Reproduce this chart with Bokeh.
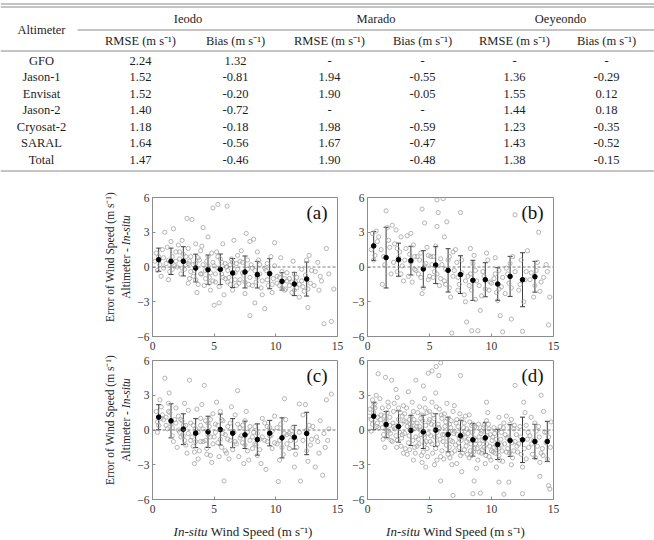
from math import pi
from bokeh.plotting import figure
from bokeh.layouts import column, row
from bokeh.models import (ColumnDataSource, Range1d, Label, Span, Whisker,
                          TeeHead, FixedTicker)
from bokeh.core.properties import value
from bokeh.embed import file_html
from bokeh.resources import INLINE

SERIF = "Liberation Serif"

# ---------------- table data ----------------
altimeters = ["GFO", "Jason-1", "Envisat", "Jason-2", "Cryosat-2", "SARAL", "Total"]
stations = ["Ieodo", "Marado", "Oeyeondo"]
sub_headers = ["RMSE (m s\u207b\u00b9)", "Bias (m s\u207b\u00b9)"]
ieodo_rmse = [2.24, 1.52, 1.52, 1.40, 1.18, 1.64, 1.47]
ieodo_bias = [1.32, -0.81, -0.20, -0.72, -0.18, -0.56, -0.46]
marado_rmse = [None, 1.94, 1.90, None, 1.98, 1.67, 1.90]
marado_bias = [None, -0.55, -0.05, None, -0.59, -0.47, -0.48]
oey_rmse = [None, 1.36, 1.55, 1.44, 1.23, 1.43, 1.38]
oey_bias = [None, -0.29, 0.12, 0.18, -0.35, -0.52, -0.15]

# ---------------- panel data ----------------
a_pts = [(0.3,1.2),(0.6,0.2),(0.8,1.5),(0.4,-0.3),(0.9,0.8),(0.2,0.5),(0.7,-0.8),(1.0,3.0),
         (1.2,1.7),(1.4,-0.4),(1.6,0.9),(1.8,0.1),(1.3,-1.1),(1.7,3.3),(1.9,1.3),(1.5,2.2),(1.1,0.3),
         (2.1,1.9),(2.3,-0.6),(2.5,1.1),(2.7,0.2),(2.9,-1.4),(2.4,2.3),(2.8,4.2),(2.2,0.7),(2.6,-0.2),(2.9,1.6),
         (3.2,4.1),(3.1,0.9),(3.3,-0.8),(3.5,0.3),(3.7,-1.5),(3.9,1.4),(3.4,-0.3),(3.6,-2.2),(3.8,0.6),(3.0,-1.0),(3.5,2.0),
         (4.1,3.4),(4.2,-1.6),(4.4,0.5),(4.6,-0.9),(4.8,1.2),(4.3,-0.3),(4.7,-2.0),(4.5,0.1),(4.9,5.1),(4.0,1.8),(4.9,-1.2),(4.5,2.6),
         (5.3,5.4),(5.1,-0.6),(5.2,1.3),(5.4,-1.7),(5.6,0.4),(5.8,-2.4),(5.5,-0.2),(5.7,2.0),(5.9,-1.0),(5.0,-3.3),(5.4,-3.1),(5.3,0.9),
         (6.05,5.25),(6.1,-1.3),(6.3,0.2),(6.5,-2.0),(6.7,-0.5),(6.9,1.0),(6.2,-0.9),(6.6,2.3),(6.8,-1.6),(6.4,0.7),
         (7.1,-1.1),(7.3,0.4),(7.5,-2.3),(7.6,2.9),(7.7,-0.2),(7.9,-4.2),(7.2,1.4),(7.8,-1.5),(7.4,-0.7),(7.9,2.2),
         (8.1,-0.1),(8.3,-3.1),(8.4,-1.3),(8.6,0.6),(8.8,-1.8),(8.2,2.4),(8.7,-0.6),(8.9,-2.4),(8.5,1.3),
         (9.1,-3.6),(9.2,-0.3),(9.4,-1.6),(9.6,0.9),(9.8,-1.0),(9.3,0.3),(9.7,-2.2),(9.9,2.1),
         (10.1,-0.8),(10.3,-1.6),(10.5,-0.4),(10.7,-2.0),(10.9,-1.2),(10.4,0.8),(10.8,-1.9),
         (11.1,-1.0),(11.3,-2.2),(11.5,-0.6),(11.7,-1.8),(11.9,-2.6),(11.4,0.5),(11.6,-1.3),
         (12.1,-0.2),(12.3,-2.1),(12.6,-3.5),(12.5,0.6),(12.8,-1.4),(12.7,1.0),(12.2,-1.7),
         (13.2,-0.4),(13.5,-2.0),(13.9,-4.9),(14.1,1.6),(13.7,-1.2),(14.5,-4.7),(14.7,-1.9),(14.3,-0.6),(13.4,0.4),
         (0.5,0.9),(0.9,-0.1),(1.3,0.6),(1.6,-0.2),(1.9,0.5),(2.2,1.3),(2.4,-0.1),(2.7,0.9),(2.9,0.3),(3.1,-0.4),
         (3.3,0.2),(3.5,-1.1),(3.7,0.8),(3.9,-0.6),(4.1,0.2),(4.3,-1.0),(4.5,0.9),(4.7,-0.5),(4.9,0.4),(5.1,-1.3),
         (5.3,-0.1),(5.5,0.7),(5.7,-0.9),(5.9,0.3),(6.1,-0.3),(6.3,-1.5),(6.5,0.4),(6.7,-1.1),(6.9,-0.2),(7.1,0.5),
         (7.3,-0.5),(7.5,-1.3),(7.7,0.6),(7.9,-0.9),(8.1,-1.6),(8.3,-0.3),(8.5,-0.9),(8.7,0.2),(8.9,-1.2),(9.1,-0.1),
         (9.3,-1.1),(9.5,-0.5),(9.7,-1.5),(9.9,0.1),(10.1,-1.4),(10.3,-0.9),(10.5,-1.8),(10.7,-1.0),(10.9,-0.5),(11.1,-1.6),
         (11.3,-1.3),(11.5,-2.0),(11.7,-0.9),(11.9,-1.5),(12.1,-1.2),(12.4,-0.7),(12.6,-1.9),(12.9,-0.3),(13.1,-1.6),(13.6,-0.8),
         (4.0,-0.6),(4.6,-1.4),(5.0,0.1),(5.6,-0.6),(6.0,0.0),(3.0,0.5),(2.0,0.0),(6.8,0.3),(7.0,-1.4),(8.0,0.2)]

b_pts = [(0.4,2.9),(0.6,1.0),(0.8,2.2),(0.5,0.6),(0.7,3.1),
         (1.5,4.85),(1.2,-1.5),(1.7,2.3),(1.4,0.2),(1.9,-0.6),(1.1,1.5),(1.6,3.4),
         (2.2,2.0),(2.4,-0.4),(2.6,1.3),(2.8,0.1),(2.3,3.2),(2.9,-1.2),(2.5,0.8),(2.7,2.6),
         (3.1,1.6),(3.3,-0.8),(3.5,0.4),(3.7,1.9),(3.9,-0.3),(3.2,2.7),(3.6,-1.3),(3.8,0.9),
         (4.1,-0.6),(4.3,1.2),(4.4,5.0),(4.6,3.8),(4.5,-1.8),(4.7,0.3),(4.9,-1.1),(4.2,0.6),(4.8,1.7),(4.4,-2.3),
         (5.6,5.8),(5.7,4.7),(5.6,3.5),(5.1,0.9),(5.3,-0.9),(5.5,1.8),(5.8,-1.6),(5.2,0.2),(5.9,0.7),(5.4,-0.4),
         (6.1,5.9),(6.4,3.9),(6.8,-5.7),(6.2,-1.2),(6.5,0.6),(6.7,-2.6),(6.9,1.3),(6.3,-0.2),(6.6,-1.8),
         (7.5,4.7),(7.2,0.4),(7.4,-1.5),(7.6,-0.5),(7.8,-2.4),(7.1,1.5),(7.9,-3.0),(7.3,-0.9),
         (8.0,-4.75),(8.4,-5.5),(8.9,-5.5),(8.2,-1.6),(8.5,0.3),(8.7,-2.8),(8.3,-0.6),(8.8,-1.2),(8.6,1.0),
         (9.1,-3.75),(9.3,-0.4),(9.5,-1.9),(9.7,0.6),(9.9,-1.3),(9.2,-2.5),(9.6,1.2),
         (10.9,-5.6),(10.7,-4.2),(10.2,-1.0),(10.4,-2.2),(10.6,-0.3),(10.8,-1.7),(10.3,0.8),(10.5,-2.9),
         (11.9,4.5),(11.6,-4.5),(11.2,-0.1),(11.4,-1.4),(11.7,0.9),(11.1,-2.3),(11.5,0.3),
         (12.5,-5.55),(12.2,-2.0),(12.4,0.6),(12.7,-1.1),(12.9,1.4),(12.6,-3.0),
         (13.8,3.0),(14.6,-5.0),(14.7,-2.6),(13.2,-0.5),(13.5,-1.6),(13.7,0.4),(14.2,-0.9),(14.4,0.2),(13.9,-2.1),
         (0.3,1.5),(0.9,2.6),(1.3,0.9),(1.8,1.7),(2.1,0.4),(2.4,1.6),(2.7,-0.6),(3.0,0.6),(3.4,1.1),(3.8,-0.2),
         (4.0,0.9),(4.3,-0.9),(4.6,0.1),(4.9,1.0),(5.0,-0.8),(5.3,0.9),(5.6,-0.6),(5.9,-1.0),(6.0,0.2),(6.3,-1.5),
         (6.6,0.9),(6.9,-0.8),(7.0,-0.3),(7.3,-2.0),(7.6,0.6),(7.9,-1.2),(8.1,-0.8),(8.4,-2.0),(8.7,-0.3),(9.0,-1.6),
         (9.4,-0.8),(9.8,-2.0),(10.0,-1.4),(10.3,-0.6),(10.6,-1.9),(10.9,-0.9),(11.3,-0.6),(11.6,-1.8),(11.9,-0.4),(12.3,-1.5),
         (12.8,-0.4),(13.1,-1.1),(13.4,-2.6),(13.6,-0.3),(14.0,-1.3),(14.5,-0.4),(2.0,3.6),(3.5,2.9),(6.2,2.6),(8.3,1.6)]

c_pts = [(0.3,1.6),(0.5,0.4),(0.7,2.0),(0.9,0.9),(0.4,-0.2),(0.8,1.3),(1.0,4.47),(0.6,2.6),
         (1.35,3.2),(1.2,0.1),(1.4,1.5),(1.6,-0.5),(1.8,0.9),(1.3,2.3),(1.7,-1.0),(1.9,1.9),(1.5,0.5),(1.1,1.1),
         (3.0,4.3),(2.1,1.2),(2.3,-0.6),(2.5,0.4),(2.7,-1.3),(2.9,1.7),(2.2,-0.2),(2.6,2.3),(2.8,-2.0),(2.4,0.8),(2.6,-0.9),
         (3.1,0.6),(3.3,-1.4),(3.5,0.1),(3.7,-2.5),(3.9,1.0),(3.2,-0.6),(3.6,1.8),(3.8,-1.8),(3.4,-2.9),(3.5,-0.3),(3.9,-1.0),
         (4.2,3.85),(4.1,-1.0),(4.3,0.8),(4.5,-0.4),(4.7,-2.2),(4.9,1.4),(4.4,-1.6),(4.6,0.3),(4.8,-2.8),(4.0,2.2),(4.7,0.9),
         (5.8,-4.4),(5.1,0.5),(5.3,-1.1),(5.5,1.6),(5.7,-0.3),(5.9,-1.8),(5.2,2.4),(5.4,-2.3),(5.6,0.9),(5.0,-0.6),
         (6.9,3.4),(6.1,-0.8),(6.3,0.6),(6.5,-1.7),(6.7,1.3),(6.2,-2.5),(6.6,-0.2),(6.8,-1.2),(6.4,2.0),
         (7.8,-2.6),(7.1,0.2),(7.3,-1.1),(7.5,0.8),(7.7,-1.8),(7.2,-0.5),(7.6,1.6),(7.9,-0.9),(7.4,-2.9),
         (8.1,-1.6),(8.3,0.3),(8.5,-2.2),(8.7,-0.8),(8.9,1.0),(8.4,-1.3),(8.2,-0.2),(8.8,-2.9),
         (9.2,-3.4),(9.1,0.6),(9.3,-1.0),(9.5,0.2),(9.7,-1.6),(9.9,1.2),(9.6,-0.5),
         (10.2,-4.45),(10.7,2.7),(10.1,-1.2),(10.4,0.5),(10.6,-2.1),(10.9,-0.4),(10.3,-2.6),(10.8,0.9),
         (11.5,-3.2),(11.9,2.25),(11.2,-0.9),(11.4,0.2),(11.7,-1.5),(11.1,-0.3),(11.6,-2.1),
         (12.0,-4.4),(12.2,1.3),(12.5,-1.8),(12.7,0.4),(12.9,-0.8),(12.4,2.2),(12.6,-2.7),
         (13.8,-3.9),(14.5,3.1),(14.1,2.6),(13.2,-3.2),(13.3,-0.6),(13.6,0.8),(14.0,-1.5),(14.3,0.1),(13.5,-2.0),
         (0.4,0.7),(0.7,1.0),(1.1,0.4),(1.3,1.6),(1.6,0.2),(1.9,0.6),(2.1,0.0),(2.3,0.9),(2.5,-0.5),(2.7,0.4),
         (2.9,-0.3),(3.1,-0.9),(3.3,0.4),(3.5,-1.0),(3.7,-0.2),(3.9,0.4),(4.1,0.1),(4.3,-0.9),(4.5,0.6),(4.7,-0.6),
         (4.9,-1.2),(5.1,-0.2),(5.3,0.4),(5.5,-0.8),(5.7,0.8),(5.9,-0.4),(6.1,0.3),(6.3,-0.9),(6.5,-0.1),(6.7,-1.0),
         (6.9,0.5),(7.1,-0.7),(7.3,0.4),(7.5,-1.3),(7.7,-0.2),(7.9,0.3),(8.1,-0.6),(8.3,-1.2),(8.5,-0.3),(8.7,-1.7),
         (8.9,-0.6),(9.1,-0.9),(9.3,0.3),(9.5,-0.5),(9.7,-0.1),(9.9,-1.1),(10.1,0.2),(10.3,-0.9),(10.5,-1.5),(10.7,-0.3),
         (10.9,-1.2),(11.1,-1.6),(11.3,-0.4),(11.6,-0.9),(11.9,-0.2),(12.2,-0.9),(12.5,0.0),(12.8,-1.3),(13.0,0.3),(13.4,-1.0),
         (13.9,-0.3),(14.2,-0.9),(3.4,-1.9),(4.4,-2.1),(5.6,-1.5),(2.0,-1.5),(6.0,-2.0),(7.0,-2.3)]

d_pts = [(0.86,4.85),(0.2,1.8),(0.4,0.5),(0.6,2.3),(0.8,1.1),(0.3,-0.1),(0.7,3.0),(0.5,1.5),(0.9,0.2),(0.4,2.6),
         (1.45,4.55),(1.95,4.3),(1.1,1.3),(1.3,-0.4),(1.5,0.8),(1.7,2.0),(1.9,-0.9),(1.2,0.2),(1.6,1.5),(1.8,0.4),(1.4,-1.5),(1.0,2.7),(1.7,-0.1),
         (2.1,1.6),(2.3,-0.5),(2.5,0.9),(2.7,-1.4),(2.9,2.1),(2.2,0.1),(2.6,-0.2),(2.8,1.2),(2.4,2.8),(2.0,-1.0),(2.7,0.5),(2.3,3.5),(2.9,-2.0),
         (3.3,3.3),(3.9,4.3),(3.1,0.7),(3.3,-1.1),(3.5,0.2),(3.7,1.6),(3.9,-0.6),(3.2,-2.1),(3.6,2.4),(3.8,-1.5),(3.4,0.9),(3.0,-0.3),(3.7,-2.6),(3.5,1.2),
         (4.5,3.8),(4.9,4.9),(4.1,-0.8),(4.3,1.0),(4.5,-1.9),(4.7,0.4),(4.9,-0.3),(4.2,2.0),(4.6,-1.2),(4.8,1.5),(4.4,-2.8),(4.0,0.6),(4.7,-3.2),(4.3,-0.4),(4.6,2.7),
         (5.2,5.1),(5.54,5.48),(5.9,5.8),(5.75,4.7),(5.9,-4.4),(5.1,-0.5),(5.3,1.3),(5.5,-1.6),(5.7,0.5),(5.9,-2.3),(5.2,2.4),(5.6,-0.2),(5.8,1.8),(5.4,-3.0),(5.0,0.9),(5.5,3.2),
         (6.9,-5.65),(6.1,-1.0),(6.3,0.7),(6.5,-2.1),(6.7,0.2),(6.9,1.6),(6.2,-0.4),(6.6,-1.5),(6.8,-3.0),(6.4,2.3),(6.0,1.0),(6.7,-0.9),
         (7.5,4.7),(7.1,-1.3),(7.3,0.3),(7.5,-2.2),(7.7,-0.4),(7.9,1.2),(7.2,-2.9),(7.6,0.9),(7.8,-1.7),(7.4,-0.7),(7.0,2.1),(7.6,-3.6),
         (8.6,-4.4),(8.5,-5.5),(8.1,-0.3),(8.3,-1.8),(8.5,0.5),(8.7,-1.2),(8.9,-2.6),(8.2,1.3),(8.6,-0.7),(8.8,-3.3),(8.4,-2.2),(8.0,0.1),
         (9.1,-5.45),(9.2,-0.1),(9.4,-1.5),(9.6,0.8),(9.8,-2.3),(9.3,-0.9),(9.7,1.5),(9.5,-2.9),(9.9,-0.4),(9.0,-1.9),(9.6,2.4),
         (11.0,-5.55),(10.6,-4.5),(10.1,-0.6),(10.3,-2.0),(10.5,-1.1),(10.7,0.3),(10.9,-2.7),(10.2,-1.5),(10.8,-0.2),(10.4,-3.2),(10.6,1.1),
         (11.9,3.85),(11.4,-4.5),(11.1,-0.4),(11.3,-1.6),(11.5,0.5),(11.7,-2.4),(11.9,-1.0),(11.2,1.2),(11.6,-3.0),(11.8,0.1),
         (12.5,-5.5),(12.1,-1.9),(12.3,0.3),(12.5,-3.2),(12.7,1.5),(12.9,-0.8),(12.2,-1.2),(12.6,2.4),(12.8,-2.5),
         (13.9,-4.0),(14.0,3.0),(13.1,-0.5),(13.3,-2.1),(13.5,0.6),(13.7,-1.4),(13.9,-2.8),(13.2,1.1),(13.6,-0.1),
         (14.2,1.6),(14.6,-4.8),(14.7,-5.1),(14.1,-1.6),(14.3,-0.2),(14.5,-2.5),(14.8,0.7),(14.4,-1.1),
         (0.3,0.9),(0.6,1.9),(0.8,0.6),(1.2,1.9),(1.4,0.7),(1.6,-0.6),(1.8,1.1),(2.1,0.3),(2.4,-0.9),(2.5,1.9),
         (2.8,-0.4),(3.0,1.4),(3.2,0.3),(3.4,-1.7),(3.6,0.6),(3.8,0.1),(4.0,-1.4),(4.2,0.3),(4.4,1.3),(4.6,-0.6),
         (4.8,-1.6),(5.0,1.6),(5.2,-1.2),(5.4,0.4),(5.6,-2.6),(5.8,0.1),(6.0,-1.8),(6.2,1.4),(6.4,-0.7),(6.6,0.5),
         (6.8,-2.0),(7.0,-0.1),(7.2,0.9),(7.4,-1.5),(7.6,-0.2),(7.8,0.6),(8.0,-1.0),(8.2,-2.4),(8.4,0.4),(8.6,-1.6),
         (8.8,0.2),(9.0,-0.6),(9.2,-2.0),(9.4,0.4),(9.6,-1.2),(9.8,0.1),(10.0,-1.8),(10.2,0.2),(10.4,-0.8),(10.6,-2.2),
         (10.8,-1.3),(11.0,0.6),(11.2,-1.9),(11.4,-0.6),(11.6,0.9),(11.8,-1.8),(12.0,-0.4),(12.4,-2.1),(12.8,0.4),
         (13.0,-1.5),(13.4,-0.9),(13.8,0.3),(14.0,-2.0),(14.6,-0.6),
         (0.15,1.2),(0.45,2.0),(0.75,0.3),(1.05,0.9),(1.25,-0.8),(1.35,1.2),(1.55,0.0),(1.65,2.4),(1.85,-0.3),(2.05,0.6),
         (2.15,2.3),(2.35,-1.5),(2.45,0.4),(2.65,1.5),(2.75,-0.7),(2.95,0.8),(3.05,-1.6),(3.15,1.9),(3.35,-0.5),(3.45,0.5),
         (3.65,-0.9),(3.75,0.9),(3.85,-2.0),(3.95,0.3),(4.05,1.5),(4.15,-1.2),(4.25,0.0),(4.35,-2.2),(4.45,0.8),(4.55,-0.4),
         (4.65,1.9),(4.75,-1.0),(4.85,-2.3),(4.95,0.7),(5.05,-1.0),(5.15,0.5),(5.25,-2.0),(5.35,1.0),(5.45,-0.6),(5.55,2.0),
         (5.65,-1.2),(5.75,0.2),(5.85,-0.8),(5.95,1.3),(6.05,-0.4),(6.15,-2.5),(6.25,0.3),(6.35,-1.3),(6.45,1.0),(6.55,-0.1),
         (6.65,-2.4),(6.75,0.8),(6.85,-1.0),(6.95,-0.3),(7.05,-1.8),(7.15,0.6),(7.25,-0.4),(7.35,-1.1),(7.45,1.4),(7.55,-0.9),
         (7.65,-2.0),(7.75,0.2),(7.85,-0.6),(7.95,-1.4),(8.05,-2.1),(8.15,-0.8),(8.25,0.7),(8.35,-1.2),(8.45,-0.2),(8.55,-1.9),
         (8.65,0.3),(8.75,-0.9),(8.85,-1.6),(8.95,0.5),(9.05,-1.2),(9.15,-0.3),(9.25,-1.7),(9.35,0.2),(9.45,-0.8),(9.55,-2.2),
         (9.65,-0.5),(9.75,0.5),(9.85,-1.4),(9.95,-2.6),(10.05,-0.9),(10.15,-1.9),(10.25,-0.3),(10.35,-1.3),(10.45,0.0),(10.55,-1.6),
         (10.65,-2.6),(10.75,-0.8),(10.85,-1.8),(10.95,0.2),(11.05,-1.2),(11.25,-0.7),(11.45,-2.0),(11.65,-1.1),(11.85,0.4),(12.05,-1.4),
         (12.35,-0.6),(12.65,-1.6),(12.95,-0.2),(13.25,-1.2),(13.55,-2.4),(13.85,-0.6),(14.15,-2.2),(14.45,-0.2),(14.75,-1.5)]

a_bin_x = [0.5, 1.5, 2.5, 3.5, 4.5, 5.5, 6.5, 7.5, 8.5, 9.5, 10.5, 11.5, 12.5]
a_mean = [0.63, 0.49, 0.49, -0.09, -0.23, -0.20, -0.52, -0.43, -0.66, -0.58, -1.24, -1.47, -1.04]
a_std = [1.00, 1.14, 1.26, 1.20, 1.27, 1.32, 1.25, 1.38, 1.15, 1.30, 0.75, 1.00, 1.47]

b_bin_x = [0.5, 1.5, 2.5, 3.5, 4.5, 5.5, 6.5, 7.5, 8.5, 9.5, 10.5, 11.5, 12.5, 13.5]
b_mean = [1.82, 0.81, 0.63, 0.55, -0.17, 0.17, -0.29, -0.66, -1.15, -1.10, -1.47, -0.81, -1.10, -0.84]
b_std = [1.25, 2.62, 1.43, 1.24, 1.58, 1.60, 1.87, 1.63, 1.73, 1.47, 1.41, 1.73, 2.33, 1.33]

c_bin_x = [0.5, 1.5, 2.5, 3.5, 4.5, 5.5, 6.5, 7.5, 8.5, 9.5, 10.5, 11.5, 12.5]
c_mean = [1.11, 0.79, 0.07, -0.27, -0.16, 0.04, -0.27, -0.42, -0.82, -0.27, -0.68, -0.62, -0.30]
c_std = [1.08, 1.47, 1.33, 1.25, 1.35, 1.34, 1.25, 1.18, 1.35, 1.10, 1.73, 1.02, 1.83]

d_bin_x = [0.5, 1.5, 2.5, 3.5, 4.5, 5.5, 6.5, 7.5, 8.5, 9.5, 10.5, 11.5, 12.5, 13.5, 14.5]
d_mean = [1.19, 0.47, 0.30, -0.04, -0.16, -0.01, -0.39, -0.50, -0.85, -0.68, -1.25, -0.91, -0.85, -0.99, -0.99]
d_std = [1.16, 1.13, 1.35, 1.30, 1.44, 1.41, 1.50, 1.34, 1.41, 1.34, 1.30, 1.37, 1.96, 1.48, 1.74]

x_ticks = [0, 5, 10, 15]
y_ticks = [-6, -3, 0, 3, 6]
panel_letters = ["(a)", "(b)", "(c)", "(d)"]
ylabel_1 = "Error of Wind Speed (m s\u207b\u00b9)"
ylabel_2 = ["Altimeter -", "In-situ"]
xlabel = ["In-situ", "Wind Speed (m s\u207b\u00b9)"]

TXT = "#1e1e1e"

def canvas(w, h):
    f = figure(width=w, height=h, x_range=Range1d(0, w), y_range=Range1d(h, 0),
               toolbar_location=None, output_backend="svg", x_axis_type=None,
               y_axis_type=None, min_border=0, outline_line_color=None)
    f.xgrid.visible = False
    f.ygrid.visible = False
    return f

# ---------------- table figure ----------------
TW, TH = 654, 180
tab = canvas(TW, TH)
col_x = [41, 140, 235, 329, 422, 514, 606]
grp_x = [187.5, 375.5, 560]
row_y = [60, 76.5, 93, 109.5, 126, 142.5, 159]

def fmt(v):
    return "-" if v is None else "%.2f" % v

tx, ty, tt = [], [], []
tx.append(col_x[0]); ty.append(29); tt.append("Altimeter")
for gx, name in zip(grp_x, stations):
    tx.append(gx); ty.append(18); tt.append(name)
for i in range(6):
    tx.append(col_x[i + 1]); ty.append(40); tt.append(sub_headers[i % 2])
cols = [ieodo_rmse, ieodo_bias, marado_rmse, marado_bias, oey_rmse, oey_bias]
for r, name in enumerate(altimeters):
    tx.append(col_x[0]); ty.append(row_y[r]); tt.append(name)
    for c, arr in enumerate(cols):
        tx.append(col_x[c + 1]); ty.append(row_y[r]); tt.append(fmt(arr[r]))

tab.text(x=tx, y=ty, text=tt, text_font=value(SERIF), text_font_size=value("12.5px"),
         text_color=TXT, text_align="center", text_baseline="middle")
tab.segment(x0=[0, 0, 77, 0, 0], y0=[3.5, 6.5, 29.5, 50.5, 170.5],
            x1=[TW, TW, TW, TW, TW], y1=[3.5, 6.5, 29.5, 50.5, 170.5],
            line_color="#8a8a8a", line_width=1)

# ---------------- axis-title canvases ----------------
LW = 134
ROW1_H = 17 + 139 + 19
ROW2_H = 5 + 139 + 20
YFS = 11.5
ylab = canvas(LW, ROW1_H + ROW2_H)
centers = [17 + 139 / 2.0 - 10, ROW1_H + 5 + 139 / 2.0 - 10]
ylab.text(x=[109.5, 109.5], y=centers, text=[ylabel_1, ylabel_1], angle=pi / 2,
          text_font=value(SERIF), text_font_size=value("%.1fpx" % YFS), text_color=TXT,
          text_align="center", text_baseline="middle")
ylab.text(x=[125.5, 125.5], y=[c - 8.95 for c in centers], text=[ylabel_2[0]] * 2, angle=pi / 2,
          text_font=value(SERIF), text_font_size=value("%.1fpx" % YFS), text_color=TXT,
          text_align="right", text_baseline="middle")
ylab.text(x=[125.5, 125.5], y=[c - 11.85 for c in centers], text=[ylabel_2[1]] * 2, angle=pi / 2,
          text_font=value(SERIF), text_font_size=value("%.1fpx" % YFS), text_color=TXT,
          text_font_style="italic", text_align="left", text_baseline="middle")

XH = 540 - TH - ROW1_H - ROW2_H
xlab = canvas(TW, XH)
frame_centers = [150 + 185 / 2.0, 362 + 186 / 2.0]
junct = [c - 69.5 + 34 for c in frame_centers]
xlab.text(x=junct, y=[12, 12], text=[xlabel[0]] * 2, text_font=value(SERIF),
          text_font_size=value("13px"), text_font_style="italic", text_color=TXT,
          text_align="right", text_baseline="middle")
xlab.text(x=[j + 3.3 for j in junct], y=[12, 12], text=[xlabel[1]] * 2,
          text_font=value(SERIF), text_font_size=value("13px"), text_color=TXT,
          text_align="left", text_baseline="middle")

# ---------------- panels ----------------
GRAY = "#8c8c8c"

def make_panel(pts, bx, bm, bs, letter, fw, bl, br, bt, bb):
    p = figure(frame_width=fw, frame_height=139, x_range=Range1d(0, 15),
               y_range=Range1d(-6, 6), min_border_left=bl, min_border_right=br,
               min_border_top=bt, min_border_bottom=bb, toolbar_location=None,
               output_backend="svg", outline_line_color=GRAY,
               background_fill_color="white", border_fill_color="white")
    p.xgrid.visible = False
    p.ygrid.visible = False
    p.xaxis.ticker = FixedTicker(ticks=x_ticks)
    p.yaxis.ticker = FixedTicker(ticks=y_ticks)
    p.axis.axis_line_color = GRAY
    p.axis.major_tick_line_color = GRAY
    p.axis.major_tick_in = 3
    p.axis.major_tick_out = 0
    p.axis.minor_tick_line_color = None
    p.axis.major_label_text_font = SERIF
    p.axis.major_label_text_font_size = "11.5px"
    p.axis.major_label_text_color = "#333333"
    p.xaxis.major_label_standoff = 5
    p.yaxis.major_label_standoff = 3

    p.add_layout(Span(location=0, dimension="width", line_color="#7a7a7a",
                      line_dash="3 2", line_width=1))
    p.scatter([q[0] for q in pts], [q[1] for q in pts], marker="circle", size=4.2,
              fill_color=None, line_color="#a2a2a2", line_width=0.8)
    src = ColumnDataSource(dict(x=bx, m=bm, u=[m + s for m, s in zip(bm, bs)],
                                l=[m - s for m, s in zip(bm, bs)]))
    p.add_layout(Whisker(source=src, base="x", upper="u", lower="l",
                         line_color="#3c3c3c", line_width=1,
                         upper_head=TeeHead(size=5, line_color="#3c3c3c", line_width=1),
                         lower_head=TeeHead(size=5, line_color="#3c3c3c", line_width=1)))
    p.scatter("x", "m", source=src, marker="circle", size=4.6, color="black")
    p.add_layout(Label(x=14.2, y=4.7, text=letter, text_font=SERIF, text_font_size="19px",
                       text_align="right", text_baseline="middle", text_color="#111111"))
    return p

pa = make_panel(a_pts, a_bin_x, a_mean, a_std, panel_letters[0], 185, 150 - LW, 12, 17, 19)
pb = make_panel(b_pts, b_bin_x, b_mean, b_std, panel_letters[1], 186, 15, 106, 17, 19)
pc = make_panel(c_pts, c_bin_x, c_mean, c_std, panel_letters[2], 185, 150 - LW, 12, 5, 20)
pd = make_panel(d_pts, d_bin_x, d_mean, d_std, panel_letters[3], 186, 15, 106, 5, 20)

layout = column(tab, row(ylab, column(row(pa, pb), row(pc, pd))), xlab)
open("out.html", "w").write(file_html(layout, INLINE))
